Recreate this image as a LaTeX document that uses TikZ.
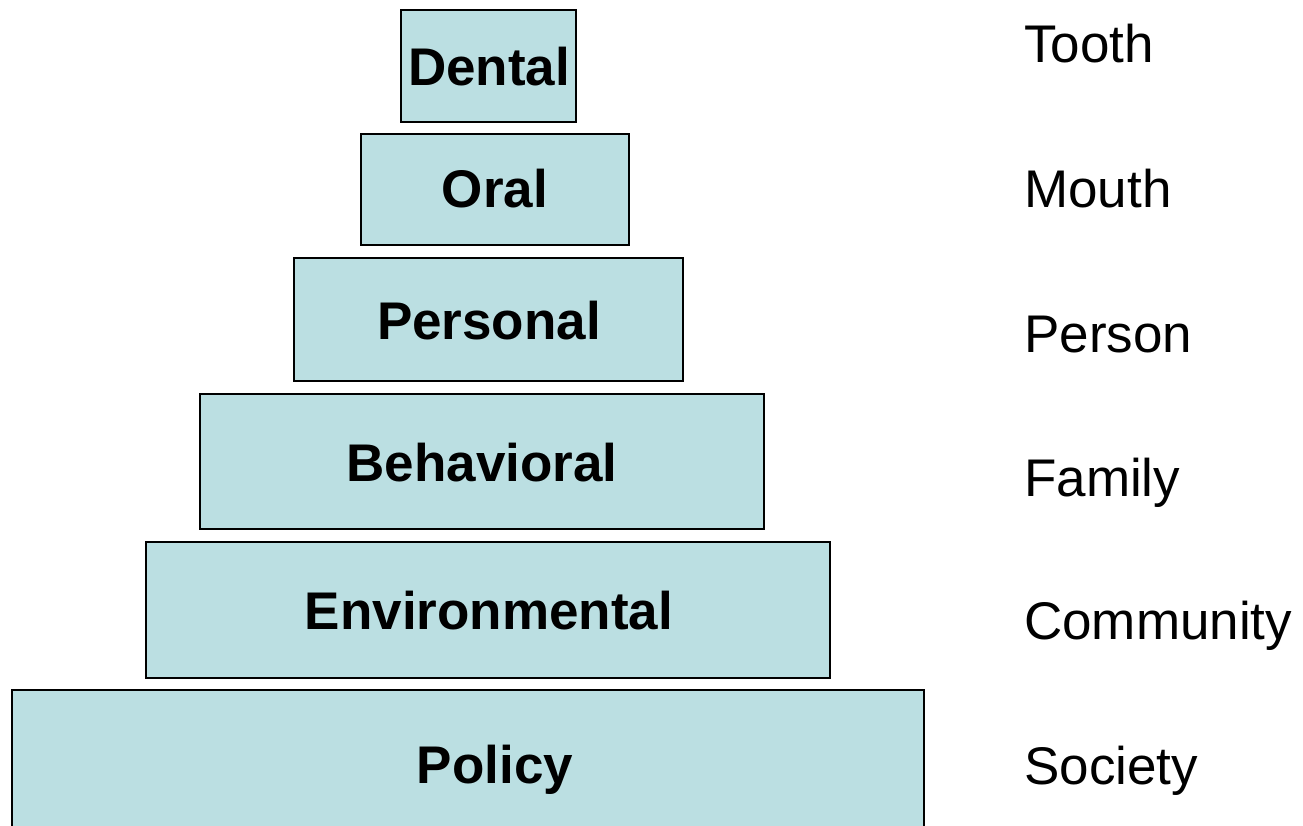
\documentclass[tikz,border=0pt]{standalone}
\usepackage{fontspec}
\setmainfont{Liberation Sans}
\definecolor{boxfill}{RGB}{187,223,226}
\begin{document}
\begin{tikzpicture}[x=1pt,y=-1pt,
  level/.style={draw=black,line width=1.3pt,fill=boxfill},
  lvltext/.style={anchor=base,inner sep=0pt,font=\fontsize{53}{60}\selectfont\bfseries},
  scaletext/.style={anchor=base west,inner sep=0pt,font=\fontsize{53}{60}\selectfont}]
\useasboundingbox (0,0) rectangle (1303,826);
\draw[level] (401,10) rectangle (576,122);
\draw[level] (361,134) rectangle (629,245);
\draw[level] (294,258) rectangle (683,381);
\draw[level] (200,394) rectangle (764,529);
\draw[level] (146,542) rectangle (830,678);
\draw[level] (12,690) rectangle (924,827);
\node[lvltext] (dental) at (489,86) {Dental};
\node[lvltext] (oral) at (495,208) {Oral};
\node[lvltext] (personal) at (489,339) {Personal};
\node[lvltext] (behavioral) at (482,481) {Behavioral};
\node[lvltext] (environmental) at (489,629) {Environmental};
\node[lvltext] (policy) at (495,783) {Policy};
\node[scaletext] (tooth) at (1024,63) {Tooth};
\node[scaletext] (mouth) at (1024,208) {Mouth};
\node[scaletext] (person) at (1024,352) {Person};
\node[scaletext] (family) at (1024,496) {Family};
\node[scaletext] (community) at (1024,639) {Community};
\node[scaletext] (society) at (1024,784) {Society};
\end{tikzpicture}
\end{document}
